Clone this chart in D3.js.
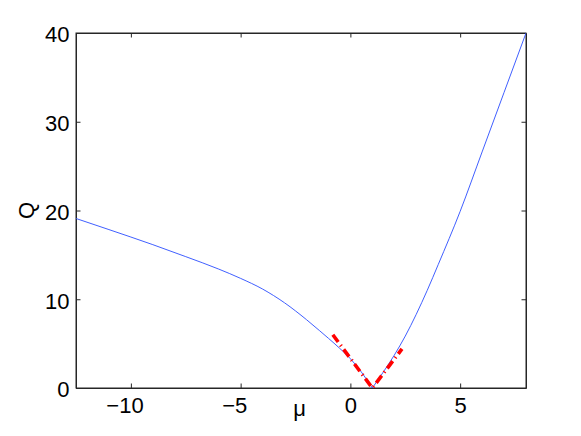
<!DOCTYPE html>
<html>
<head>
<meta charset="utf-8">
<script src="https://cdn.jsdelivr.net/npm/d3@7"></script>
<style>
    html, body { margin: 0; padding: 0; background: #fff; }
    svg { display: block; font-family: "Liberation Sans", Arial, sans-serif; }
</style>
</head>
<body>
<div id="chart"></div>
<script>
// values (left branch falls to the minimum at mu = 1, right branch rises)
const leftMu = [-12.5, -11, -9, -7.5, -6, -5, -4, -3, -2, -1.4, -1, -0.5, 0, 0.5, 1];
const leftQ = [19.1, 17.85, 16.15, 14.8, 13.4, 12.35, 11.15, 9.6, 7.7, 6.45, 5.6, 4.5, 3.3, 1.8, 0];
const rightMu = [1, 1.5, 2, 2.5, 3, 3.5, 4, 5, 6, 7, 8];
const rightQ = [0, 1.8, 3.7, 5.85, 8.3, 11.0, 13.9, 19.9, 26.6, 33.3, 40.0];
const approxMu = [-0.8, 1, 2.35];
const approxQ = [6.0, 0, 4.4];
const xTicks = [-10, -5, 0, 5];
const yTicks = [0, 10, 20, 30, 40];

const width = 581;
const height = 436;
const margin = { left: 76, right: 55, top: 33, bottom: 48 };
const innerW = width - margin.left - margin.right;
const innerH = height - margin.top - margin.bottom;
const tickLen = 4.5;
const fontSize = 22;

const x = d3.scaleLinear()
    .domain([-12.5, 8])
    .range([0, innerW]);

const y = d3.scaleLinear()
    .domain([0, 40])
    .range([innerH, 0]);

const svg = d3.select('#chart')
    .append('svg')
    .attr('width', width)
    .attr('height', height);

svg.append('rect')
    .attr('width', width)
    .attr('height', height)
    .attr('fill', '#fff');

const g = svg.append('g')
    .attr('transform', 'translate(' + margin.left + ',' + margin.top + ')');

g.append('clipPath')
    .attr('id', 'plotClip')
    .append('rect')
    .attr('width', innerW)
    .attr('height', innerH);

const fmt = d => (d < 0 ? '\u2212' + Math.abs(d) : '' + d);

// bottom axis, labels centred on the digits (minus hangs left)
const xAxis = g.append('g')
    .attr('transform', 'translate(0,' + innerH + ')')
    .call(d3.axisBottom(x)
        .tickValues(xTicks)
        .tickFormat(fmt)
        .tickSizeInner(-tickLen)
        .tickSizeOuter(0)
        .tickPadding(9));

xAxis.selectAll('text')
    .attr('dx', d => (d < 0 ? -0.292 * fontSize : 0));

g.append('g')
    .call(d3.axisTop(x)
        .tickValues(xTicks)
        .tickFormat('')
        .tickSizeInner(-tickLen)
        .tickSizeOuter(0));

const yAxis = g.append('g')
    .call(d3.axisLeft(y)
        .tickValues(yTicks)
        .tickFormat(fmt)
        .tickSizeInner(-tickLen)
        .tickSizeOuter(0)
        .tickPadding(6.5));

yAxis.selectAll('text')
    .attr('dy', '0.4em');

g.append('g')
    .attr('transform', 'translate(' + innerW + ',0)')
    .call(d3.axisRight(y)
        .tickValues(yTicks)
        .tickFormat('')
        .tickSizeInner(-tickLen)
        .tickSizeOuter(0));

g.selectAll('.tick line')
    .attr('stroke', '#262626')
    .attr('stroke-width', 1);

g.selectAll('.domain')
    .attr('stroke', '#262626');

g.selectAll('.tick text')
    .attr('fill', '#000')
    .style('font-size', fontSize + 'px')
    .style('font-family', '"Liberation Sans", Arial, sans-serif');

g.append('rect')
    .attr('width', innerW)
    .attr('height', innerH)
    .attr('fill', 'none')
    .attr('stroke', '#262626')
    .attr('stroke-width', 1);

const toPoints = (mus, qs) => mus.map((m, i) => ({ mu: m, q: qs[i] }));

const smooth = d3.line()
    .x(d => x(d.mu))
    .y(d => y(d.q))
    .curve(d3.curveMonotoneX);

const straight = d3.line()
    .x(d => x(d.mu))
    .y(d => y(d.q));

const plot = g.append('g')
    .attr('clip-path', 'url(#plotClip)');

plot.selectAll('path.branch')
    .data([toPoints(leftMu, leftQ), toPoints(rightMu, rightQ)])
    .enter()
    .append('path')
    .attr('class', 'branch')
    .attr('d', smooth)
    .attr('fill', 'none')
    .attr('stroke', '#2a4dff')
    .attr('stroke-width', 0.9);

plot.append('path')
    .attr('d', straight(toPoints(approxMu, approxQ)))
    .attr('fill', 'none')
    .attr('stroke', '#ff0000')
    .attr('stroke-width', 3.6)
    .attr('stroke-dasharray', '9,4,1.2,4');

// axis labels
svg.append('text')
    .attr('x', margin.left + innerW / 2 - 1.5)
    .attr('y', 415.5)
    .attr('text-anchor', 'middle')
    .style('font-size', fontSize + 'px')
    .text('\u03bc');

svg.append('text')
    .attr('transform', 'translate(34,' + (margin.top + innerH / 2) + ') rotate(-90)')
    .attr('text-anchor', 'middle')
    .style('font-size', fontSize + 'px')
    .text('Q');
</script>
</body>
</html>
